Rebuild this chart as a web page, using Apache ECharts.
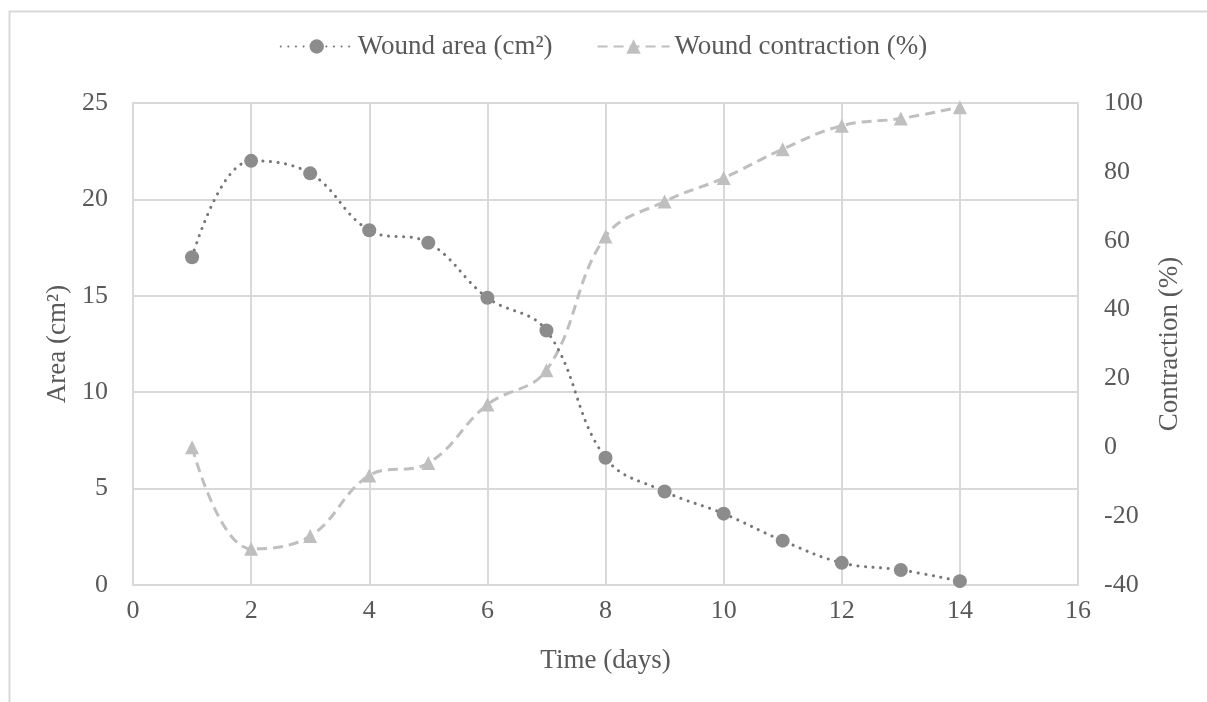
<!DOCTYPE html>
<html>
<head>
<meta charset="utf-8">
<script src="https://cdn.jsdelivr.net/npm/echarts@6/dist/echarts.min.js"></script>
<style>html,body{margin:0;padding:0;background:#fff}#c{width:1207px;height:702px}</style>
</head>
<body>
<div id="c"></div>
<script>
const days = [1,2,3,4,5,6,7,8,9,10,11,12,13,14];
const woundArea = [17.0, 22.0, 21.35, 18.4, 17.75, 14.9, 13.2, 6.6, 4.85, 3.7, 2.3, 1.15, 0.78, 0.2];
const contraction = [0, -29.5, -25.8, -8.2, -4.6, 12.4, 22.4, 61.2, 71.4, 78.2, 86.6, 93.4, 95.5, 98.8];
const xTicks = [0,2,4,6,8,10,12,14,16];
const leftTicks = [0,5,10,15,20,25];
const rightTicks = [-40,-20,0,20,40,60,80,100];

const font = '"Liberation Serif", "Times New Roman", serif';
const txt = '#595959';
const gridC = '#d9d9d9';
const fs = 26;
const fsName = 27;

const chart = echarts.init(document.getElementById('c'));
chart.setOption({
  animation: false,
  textStyle: {fontFamily: font},
  graphic: [{
    type: 'rect', left: 7, top: 9, silent: true,
    shape: {width: 1220, height: 720},
    style: {fill: 'none', stroke: gridC, lineWidth: 2}
  }],
  legend: {
    top: 28, left: 'center', itemWidth: 72, itemHeight: 18, itemGap: 44,
    textStyle: {fontFamily: font, fontSize: 27, color: txt},
    data: ['Wound area (cm²)', 'Wound contraction (%)']
  },
  grid: {left: 133, right: 129, top: 103, bottom: 117},
  xAxis: {
    type: 'value', min: xTicks[0], max: xTicks[xTicks.length-1], interval: 2,
    name: 'Time (days)', nameLocation: 'middle', nameGap: 62,
    nameTextStyle: {fontFamily: font, fontSize: fsName, color: txt},
    axisLine: {lineStyle: {color: gridC, width: 2}},
    axisTick: {show: false},
    axisLabel: {fontFamily: font, fontSize: fs, color: txt, margin: 13},
    splitLine: {show: true, lineStyle: {color: gridC, width: 2}}
  },
  yAxis: [{
    type: 'value', min: leftTicks[0], max: leftTicks[leftTicks.length-1], interval: 5,
    name: 'Area (cm²)', nameLocation: 'middle', nameGap: 61,
    nameTextStyle: {fontFamily: font, fontSize: fsName, color: txt},
    axisLine: {show: true, lineStyle: {color: gridC, width: 2}},
    axisTick: {show: false},
    axisLabel: {fontFamily: font, fontSize: fs, color: txt, margin: 25},
    splitLine: {show: true, lineStyle: {color: gridC, width: 2}}
  }, {
    type: 'value', min: rightTicks[0], max: rightTicks[rightTicks.length-1], interval: 20,
    name: 'Contraction (%)', nameLocation: 'middle', nameGap: 78,
    nameTextStyle: {fontFamily: font, fontSize: fsName, color: txt},
    axisLine: {show: true, lineStyle: {color: gridC, width: 2}},
    axisTick: {show: false},
    axisLabel: {fontFamily: font, fontSize: fs, color: txt, margin: 26},
    splitLine: {show: false}
  }],
  series: [{
    name: 'Wound area (cm²)', type: 'line', yAxisIndex: 0,
    data: days.map((d, i) => [d, woundArea[i]]),
    smooth: 0.4,
    symbol: 'circle', symbolSize: 14,
    itemStyle: {color: '#8c8c8c'},
    lineStyle: {color: '#767676', width: 3, type: [0.1, 7.5], cap: 'round'},
    z: 3
  }, {
    name: 'Wound contraction (%)', type: 'line', yAxisIndex: 1,
    data: days.map((d, i) => [d, contraction[i]]),
    smooth: 0.4,
    symbol: 'triangle', symbolSize: 14,
    itemStyle: {color: '#bfbfbf'},
    lineStyle: {color: '#bfbfbf', width: 3, type: [10, 6]},
    z: 2
  }]
});
</script>
</body>
</html>
